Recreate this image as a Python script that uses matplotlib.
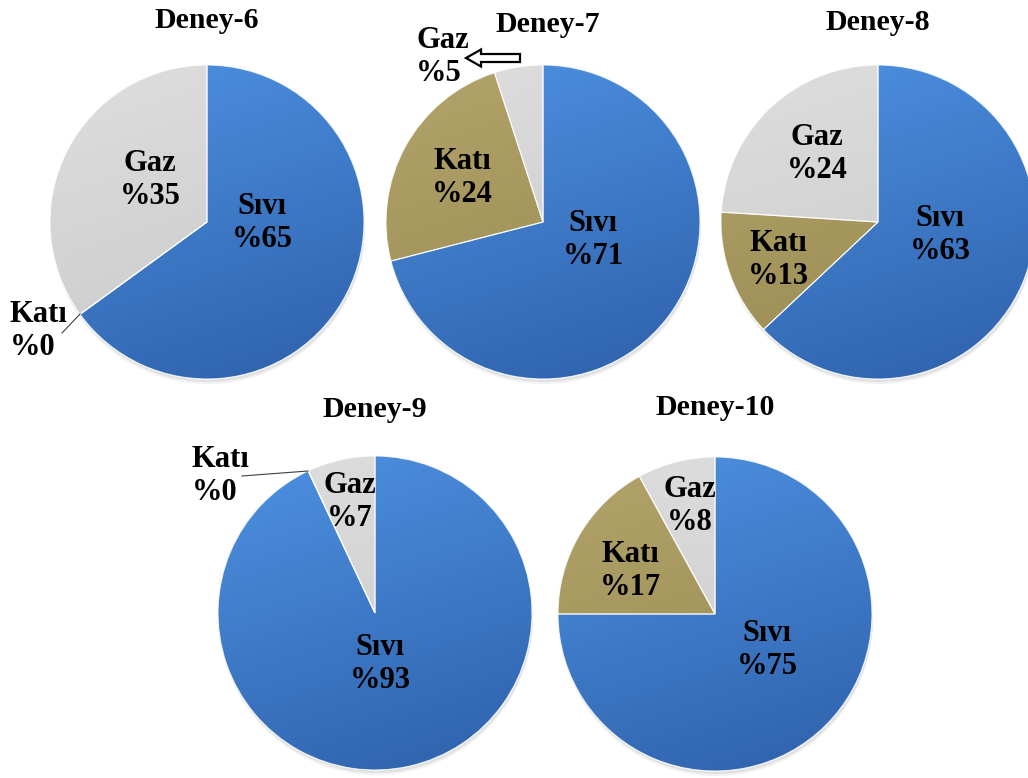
import numpy as np
import matplotlib
matplotlib.use("Agg")
import matplotlib.pyplot as plt
from matplotlib.patches import FancyArrow, Wedge

# ---------------- data ----------------
titles = ["Deney-6", "Deney-7", "Deney-8", "Deney-9", "Deney-10"]
phases = ["Sıvı", "Katı", "Gaz"]
sivi = [65, 71, 63, 93, 75]
kati = [0, 24, 13, 0, 17]
gaz = [35, 5, 24, 7, 8]

# ---------------- layout (pixel coords, y downwards) ----------------
W, H = 1028, 778
centers = [(207, 222), (543, 222), (878, 222), (375, 613), (715, 614)]
radius = 157
title_pos = [(207, 20), (548, 24), (878, 22), (375, 409), (715, 407)]

# label positions for each pie: (x, y, ha) per phase (Sıvı, Katı, Gaz)
label_pos = [
    [(262, 223, "center"), (10, 331, "left"), (150, 180, "center")],
    [(593, 240, "center"), (462, 178, "center"), (416, 57, "left")],
    [(940, 235, "center"), (778, 260, "center"), (817, 154, "center")],
    [(380, 664, "center"), (192, 476, "left"), (350, 502, "center")],
    [(767, 650, "center"), (630, 571, "center"), (690, 506, "center")],
]

grad_colors = {
    "Sıvı": ((78, 146, 226), (46, 96, 170)),
    "Katı": ((178, 164, 106), (150, 136, 80)),
    "Gaz": ((222, 222, 222), (200, 200, 200)),
}

def Y(y):
    return H - y

fig = plt.figure(figsize=(W / 100, H / 100), dpi=100)
ax = fig.add_axes([0, 0, 1, 1])

font = dict(family="Liberation Serif", weight="bold", color="black")

for i in range(5):
    cx, cy = centers[i]
    vals = [sivi[i], kati[i], gaz[i]]
    # soft shadow
    for k, a in [(5, 0.10), (3, 0.15)]:
        sh = plt.Circle((cx + 1, Y(cy) - k), radius, color="#808080", alpha=a, lw=0, zorder=0)
        ax.add_patch(sh)
    wedges, _ = ax.pie(vals, startangle=90, counterclock=False, radius=radius,
                       center=(cx, Y(cy)),
                       wedgeprops=dict(edgecolor="white", linewidth=0.8))
    for w, ph in zip(wedges, phases):
        c0, c1 = grad_colors[ph]
        n = 200
        yy, xx = np.mgrid[0:1:n * 1j, 0:1:n * 1j]
        t = np.clip(0.75 * yy + 0.25 * xx, 0, 1)[..., None]
        img = (np.array(c0)[None, None, :] * (1 - t) + np.array(c1)[None, None, :] * t) / 255.0
        w.set_facecolor(np.array(c0) / 255.0)
        w.set_zorder(1)
        im = ax.imshow(img, extent=[cx - radius, cx + radius, Y(cy) - radius, Y(cy) + radius],
                       origin="upper", zorder=1.5, interpolation="bilinear")
        im.set_clip_path(w)
    for w in wedges:
        ec = Wedge(w.center, w.r, w.theta1, w.theta2, facecolor="none",
                   edgecolor=(1, 1, 1, 0.8), linewidth=0.8, zorder=2)
        ax.add_patch(ec)

    ax.text(title_pos[i][0], Y(title_pos[i][1]), titles[i], ha="center", va="center",
            fontsize=21.5, zorder=5, **font)
    for j, ph in enumerate(phases):
        lx, ly, ha = label_pos[i][j]
        ax.text(lx, Y(ly), f"{ph}\n%{vals[j]}", ha=ha, va="center", fontsize=22,
                linespacing=1.18, zorder=5, **font)

# leader lines for zero slices (Katı %0)
ax.plot([62, 80], [Y(333), Y(314)], color="#404040", lw=0.8, zorder=4)
ax.plot([242, 308], [Y(476), Y(471)], color="#404040", lw=0.8, zorder=4)

# hollow arrow pointing to Deney-7 Gaz label
arr = FancyArrow(520, Y(58), -54, 0, width=8, head_width=17, head_length=15,
                 length_includes_head=True, facecolor="white", edgecolor="black",
                 linewidth=1.6, zorder=6)
ax.add_patch(arr)

ax.set_xlim(0, W)
ax.set_ylim(0, H)
ax.set_aspect("auto")
ax.axis("off")
fig.savefig("out.png", dpi=100, facecolor="white")
